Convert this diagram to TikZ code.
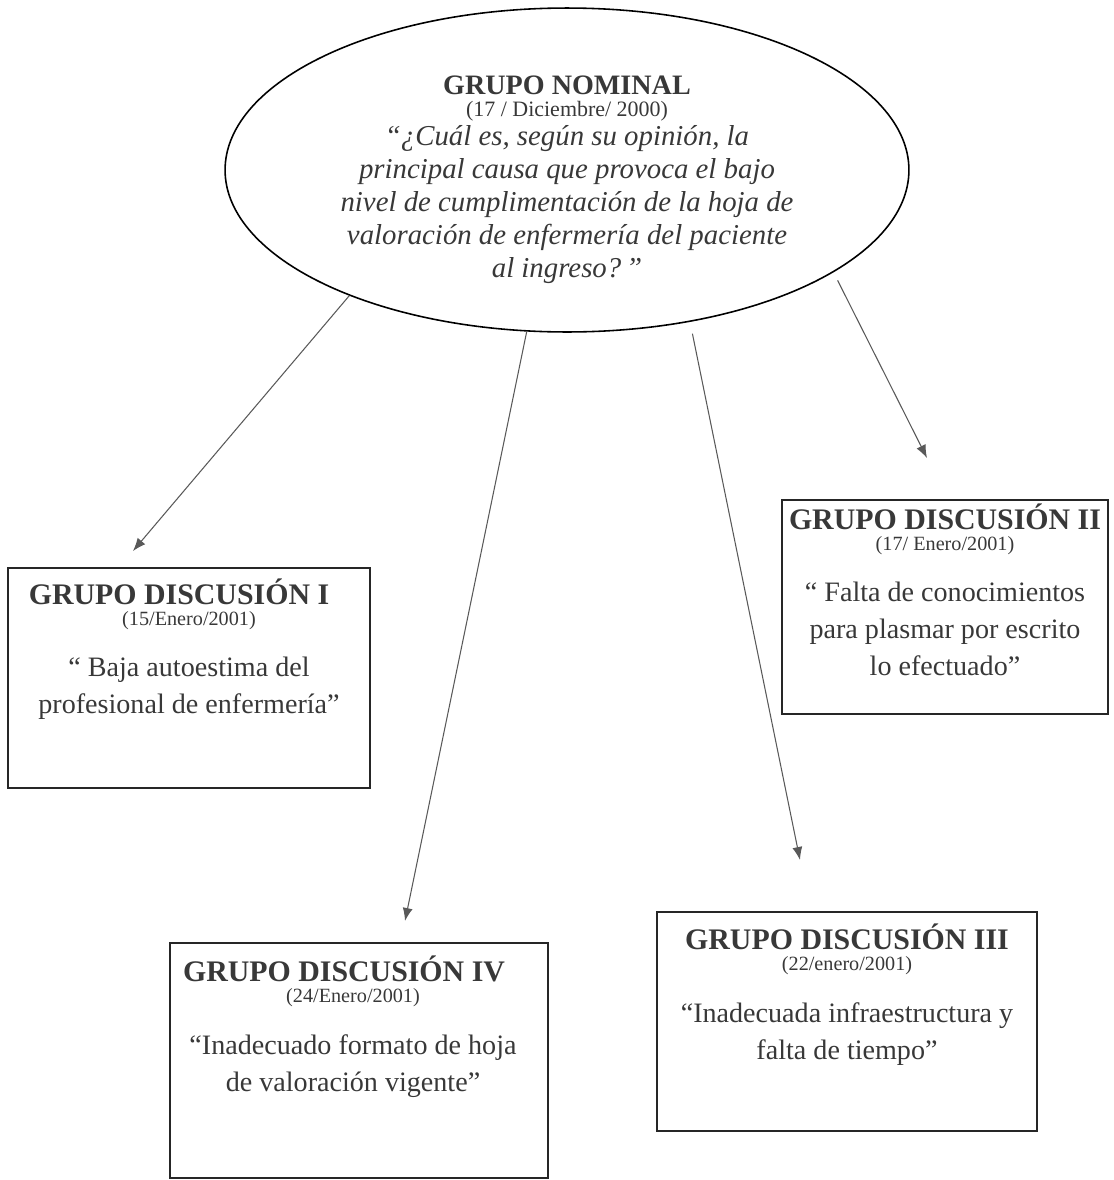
\documentclass[tikz,border=0pt]{standalone}
\usepackage{fontspec}
\setmainfont{Liberation Serif}
\usepackage{tikz}
\usetikzlibrary{shapes,arrows.meta,positioning,calc}
\tikzset{
nominal/.style = {draw, ellipse, line width=0.9pt, minimum width=13.68cm, minimum height=6.48cm},
grupo/.style = {draw=black!85, rectangle, line width=0.8pt},
titulo/.style = {inner sep=0pt, text=black!78, font=\fontsize{17}{20}\selectfont\bfseries},
fecha/.style = {inner sep=0pt, text=black!78, font=\fontsize{11.5}{13}\selectfont},
cita/.style = {inner sep=0pt, text=black!78, align=center, font=\fontsize{16}{21}\selectfont},
pregunta/.style = {inner sep=0pt, text=black!78, align=center, font=\fontsize{16.4}{18.7}\selectfont\itshape},
flecha/.style = {->, draw=black!65, line width=0.6pt},
}

\begin{document}
\begin{tikzpicture}[x=0.02cm, y=-0.02cm, >={Latex[length=0.26cm,width=0.2cm]}]
    \useasboundingbox (0,0) rectangle (1113,1180);

    % grupo nominal
    \node [nominal] (nom) at (567,170) {};
    \node [titulo, font=\fontsize{16}{19}\selectfont\bfseries, below=1.36cm of nom.north] (nomtit) {GRUPO NOMINAL};
    \node [fecha, font=\fontsize{12.5}{15}\selectfont, below=0.12cm of nomtit] (nomfec) {(17 / Diciembre/ 2000)};
    \node [pregunta, below=0.08cm of nomfec] (nompreg) {“¿Cuál es, según su opinión, la\\ principal causa que provoca el bajo\\ nivel de cumplimentación de la hoja de\\ valoración de enfermería del paciente\\ al ingreso?\,”};

    % grupos de discusion
    \node [grupo, minimum width=7.24cm, minimum height=4.4cm] (g1) at (189,678) {};
    \node [titulo, below=0.22cm of g1.north, xshift=-0.2cm] (g1tit) {GRUPO DISCUSIÓN I};
    \node [fecha, below=0.12cm of g1tit, xshift=0.2cm] (g1fec) {(15/Enero/2001)};
    \node [cita, below=0.54cm of g1fec] (g1cita) {“ Baja autoestima del\\ profesional de enfermería”};

    \node [grupo, minimum width=6.52cm, minimum height=4.28cm] (g2) at (945,607) {};
    \node [titulo, below=0.08cm of g2.north] (g2tit) {GRUPO DISCUSIÓN II};
    \node [fecha, below=0.12cm of g2tit] (g2fec) {(17/ Enero/2001)};
    \node [cita, below=0.54cm of g2fec] (g2cita) {“ Falta de conocimientos\\ para plasmar por escrito\\ lo efectuado”};

    \node [grupo, minimum width=7.6cm, minimum height=4.38cm] (g3) at (847,1021.5) {};
    \node [titulo, below=0.24cm of g3.north] (g3tit) {GRUPO DISCUSIÓN III};
    \node [fecha, below=0.12cm of g3tit] (g3fec) {(22/enero/2001)};
    \node [cita, below=0.54cm of g3fec] (g3cita) {“Inadecuada infraestructura y\\ falta de tiempo”};

    \node [grupo, minimum width=7.56cm, minimum height=4.7cm] (g4) at (359,1060.5) {};
    \node [titulo, below=0.26cm of g4.north, xshift=-0.3cm] (g4tit) {GRUPO DISCUSIÓN IV};
    \node [fecha, below=0.12cm of g4tit, xshift=0.18cm] (g4fec) {(24/Enero/2001)};
    \node [cita, below=0.54cm of g4fec] (g4cita) {“Inadecuado formato de hoja\\ de valoración vigente”};

    % puntas de flecha
    \coordinate (pI) at (133,551);
    \coordinate (pII) at (927,458);
    \coordinate (pIII) at (800,860);
    \coordinate (pIV) at (405,921);

    \draw [flecha] (nom.210) -- (pI);
    \draw [flecha] (nom.256) -- (pIV);
    \draw [flecha, shorten <=0.24cm] (nom.309) -- (pIII);
    \draw [flecha, shorten <=0.18cm] (nom.339) -- (pII);
\end{tikzpicture}
\end{document}
